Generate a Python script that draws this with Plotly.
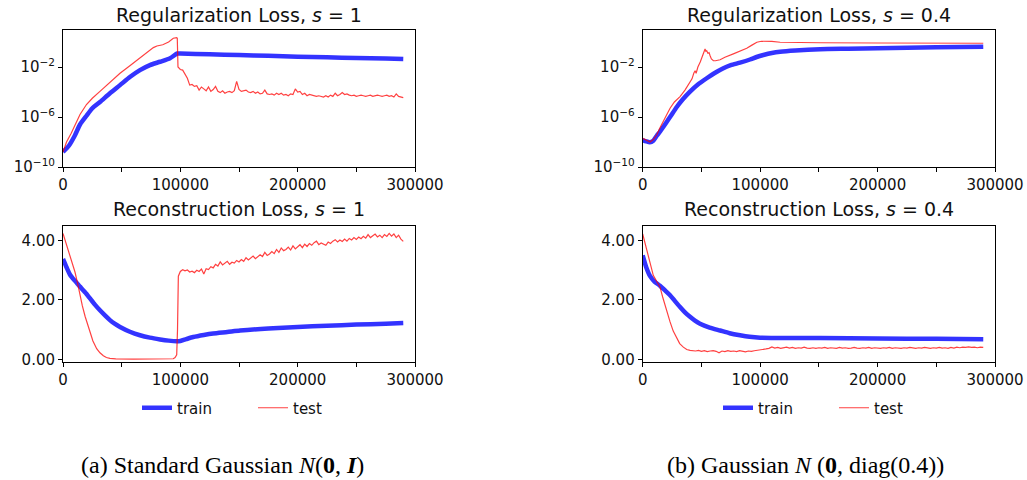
import plotly.graph_objects as go

# ---------------- data ----------------
# Regularization loss, s = 1 (log10 of value)
reg1_train_x = [0, 5000, 10000, 14500, 20000, 25000, 31500, 40000, 48600, 57000, 65600, 74100,
                82700, 91200, 97400, 100000, 125000, 150000, 175000, 200000, 225000, 250000, 275000, 290000]
reg1_train_log = [-8.8, -8.3, -7.5, -6.6, -5.9, -5.3, -4.8, -4.1, -3.45, -2.8, -2.25, -1.85,
                  -1.58, -1.3, -0.92, -0.93, -0.99, -1.05, -1.11, -1.18, -1.23, -1.28, -1.33, -1.37]

reg1_test_head_x = [0, 3000, 7000, 14500, 20000, 25000, 31500, 40000, 48600, 57000, 65600, 72000,
                    77000, 80000, 85000, 90000, 94000, 96900, 97400, 98000]
reg1_test_head_log = [-8.8, -8.0, -7.3, -5.8, -5.0, -4.5, -3.95, -3.2, -2.5, -1.9, -1.3, -0.85,
                      -0.45, -0.32, -0.22, 0.0, 0.3, 0.35, 0.3, -2.0]
reg1_test_tail_x = list(range(100000, 290001, 2000))
reg1_test_tail_log = [-2.2, -2.25, -2.6, -2.9, -3.45, -3.4, -3.55, -3.5, -3.85, -3.6,
                      -3.75, -3.9, -3.6, -3.95, -3.8, -3.55, -3.95, -4.05, -3.9, -4.1,
                      -4.0, -3.95, -4.05, -3.9, -3.15, -3.8, -3.95, -3.9, -3.85, -4.0,
                      -4.05, -3.95, -4.1, -4.0, -4.15, -4.1, -3.85, -4.15, -4.2, -4.15,
                      -4.25, -4.1, -4.2, -4.1, -4.25, -4.2, -4.3, -4.15, -4.2, -3.75,
                      -4.0, -3.95, -4.2, -4.1, -4.3, -4.2, -4.25, -4.3, -4.35, -4.3,
                      -4.35, -4.4, -4.3, -4.4, -4.25, -4.35, -4.1, -4.3, -4.2, -4.05,
                      -4.2, -4.15, -4.25, -4.3, -4.25, -4.35, -4.3, -4.25, -4.3, -4.35,
                      -4.3, -4.25, -4.35, -4.3, -4.25, -4.3, -4.35, -4.3, -4.25, -4.35,
                      -4.3, -4.4, -4.15, -4.35, -4.4, -4.45]

# Reconstruction loss, s = 1
rec1_train_x = [0, 3000, 6000, 10000, 14500, 19000, 23000, 27000, 31500, 36000, 40000, 44000,
                48600, 57000, 65600, 74000, 82700, 90000, 96900, 100000, 105000, 111000, 120000,
                128000, 140000, 150900, 175000, 200000, 225000, 250000, 275000, 290000]
rec1_train = [3.38, 3.1, 2.85, 2.65, 2.45, 2.25, 2.05, 1.85, 1.65, 1.47, 1.32, 1.2,
              1.09, 0.93, 0.81, 0.73, 0.67, 0.63, 0.61, 0.62, 0.68, 0.75, 0.82,
              0.87, 0.92, 0.97, 1.04, 1.09, 1.13, 1.17, 1.2, 1.22]

rec1_test_head_x = [0, 2000, 4000, 6000, 8000, 10200, 12500, 14500, 16500, 18800, 21000, 23000,
                    25500, 28700, 31500, 34400, 37000, 40000, 45000, 60000, 80000, 94000, 95500,
                    96900, 97600, 98300]
rec1_test_head = [4.24, 4.0, 3.7, 3.45, 3.2, 2.94, 2.55, 2.16, 1.8, 1.45, 1.15, 0.9,
                  0.62, 0.36, 0.22, 0.12, 0.06, 0.03, 0.015, 0.01, 0.01, 0.02, 0.06,
                  0.15, 1.0, 2.8]
rec1_test_tail_x = list(range(100000, 290001, 2000))
rec1_test_tail = [2.96, 3.02, 2.98, 3.01, 2.94, 2.97, 2.92, 3.0, 2.96, 3.04,
                  2.87, 3.05, 3.02, 3.12, 3.08, 3.2, 3.14, 3.28, 3.18, 3.24,
                  3.3, 3.2, 3.27, 3.24, 3.33, 3.28, 3.36, 3.3, 3.42, 3.35,
                  3.4, 3.48, 3.39, 3.45, 3.52, 3.46, 3.6, 3.5, 3.55, 3.63,
                  3.56, 3.7, 3.6, 3.75, 3.66, 3.7, 3.78, 3.68, 3.82, 3.72,
                  3.8, 3.86, 3.76, 3.88, 3.8, 3.9, 3.84, 3.93, 3.98, 3.86,
                  3.92, 3.88, 3.84, 3.95, 3.9, 3.98, 4.03, 3.95, 4.02, 3.97,
                  4.05, 3.98, 4.07, 4.02, 4.1, 4.04, 4.12, 4.06, 4.14, 4.08,
                  4.2, 4.1, 4.16, 4.22, 4.12, 4.18, 4.1, 4.2, 4.14, 4.24,
                  4.15, 4.22, 4.1, 4.18, 4.05, 3.97]

# Regularization loss, s = 0.4 (log10 of value)
reg04_train_x = [0, 3000, 6000, 9000, 12000, 14700, 17500, 20400, 24000, 29000, 34000, 40300,
                 47000, 54500, 61000, 68700, 75000, 82900, 91400, 97000, 102800, 110000, 117000,
                 130000, 151100, 175000, 200000, 250000, 290000]
reg04_train_log = [-7.84, -7.95, -8.02, -7.9, -7.5, -7.18, -6.8, -6.4, -5.9, -5.2, -4.6, -3.97,
                   -3.4, -2.9, -2.5, -2.1, -1.85, -1.65, -1.4, -1.2, -1.04, -0.88, -0.78,
                   -0.68, -0.58, -0.54, -0.5, -0.43, -0.38]
reg04_test_x = [0, 3000, 6200, 9000, 11900, 14500, 17600, 20500, 23300, 27000, 31800, 36000,
                40300, 42000, 43500, 44600, 45500, 47000, 49000, 50300, 51500, 52300, 53100,
                53800, 54500, 55500, 56500, 57400, 58500, 60200, 62000, 65900, 70000, 77200,
                83000, 88600, 93000, 97200, 101000, 105700, 110000, 117000, 130000, 151100,
                200000, 250000, 290000]
reg04_test_log = [-7.7, -7.85, -8.0, -7.8, -7.44, -6.9, -6.37, -5.8, -5.3, -4.8, -4.37, -3.85,
                  -3.2, -2.95, -2.5, -2.3, -2.5, -2.0, -1.6, -1.25, -1.0, -0.7, -0.56,
                  -0.75, -0.7, -0.9, -0.85, -1.1, -1.35, -1.5, -1.5, -1.42, -1.22, -0.95,
                  -0.75, -0.5, -0.25, -0.02, 0.06, 0.08, 0.05, -0.02, -0.04, -0.06,
                  -0.08, -0.09, -0.1]

# Reconstruction loss, s = 0.4
rec04_train_x = [0, 3000, 6300, 10000, 14700, 19000, 23300, 27500, 31800, 36000, 40300, 44500,
                 48800, 57000, 65900, 74000, 82900, 91000, 100000, 125000, 151100, 200000,
                 250000, 290000]
rec04_train = [3.5, 3.1, 2.8, 2.62, 2.48, 2.32, 2.16, 1.96, 1.76, 1.58, 1.43, 1.3,
               1.2, 1.07, 0.97, 0.88, 0.81, 0.76, 0.73, 0.72, 0.72, 0.7,
               0.69, 0.68]
rec04_test_head_x = [0, 2000, 4800, 7000, 9000, 12000, 14700, 17000, 19000, 21000, 23300, 26000,
                     29000, 31500, 34600, 37500, 40300]
rec04_test_head = [4.22, 3.9, 3.5, 3.1, 2.83, 2.62, 2.44, 2.1, 1.82, 1.55, 1.26, 0.95,
                   0.69, 0.53, 0.41, 0.33, 0.3]
rec04_test_tail_x = list(range(42500, 290001, 2500))
rec04_test_tail = [0.29, 0.28, 0.30, 0.27, 0.29, 0.26, 0.28, 0.29, 0.27, 0.22,
                   0.28, 0.26, 0.29, 0.27, 0.28, 0.26, 0.29, 0.27, 0.25, 0.28,
                   0.27, 0.29, 0.3, 0.32, 0.33, 0.35, 0.37, 0.42, 0.38, 0.4,
                   0.37, 0.39, 0.41, 0.38, 0.4, 0.37, 0.39, 0.38, 0.41, 0.38,
                   0.37, 0.39, 0.37, 0.39, 0.38, 0.4, 0.37, 0.39, 0.38, 0.37,
                   0.4, 0.38, 0.39, 0.37, 0.38, 0.4, 0.38, 0.37, 0.39, 0.38,
                   0.4, 0.37, 0.39, 0.38, 0.37, 0.39, 0.38, 0.4, 0.37, 0.39,
                   0.38, 0.37, 0.39, 0.38, 0.4, 0.38, 0.37, 0.39, 0.38, 0.4,
                   0.38, 0.37, 0.39, 0.38, 0.4, 0.38, 0.39, 0.37, 0.4, 0.38,
                   0.41, 0.39, 0.41, 0.4, 0.42, 0.4, 0.41, 0.39, 0.41, 0.4]

x_tickvals = [0, 100000, 200000, 300000]
x_ticktext = ["0", "100000", "200000", "300000"]
x_minor_tickvals = [50000, 150000, 250000]
log_tickvals = [1e-10, 1e-6, 1e-2]
log_ticktext = ["10<sup>−10</sup>", "10<sup>−6</sup>", "10<sup>−2</sup>"]
lin_tickvals = [0, 2, 4]
lin_ticktext = ["0.00", "2.00", "4.00"]

titles = ["Regularization Loss, <i>s</i> = 1", "Regularization Loss, <i>s</i> = 0.4",
          "Reconstruction Loss, <i>s</i> = 1", "Reconstruction Loss, <i>s</i> = 0.4"]
captions = ["(a) Standard Gaussian <i>N</i>(<b>0</b>, <b><i>I</i></b>)",
            "(b) Gaussian <i>N</i> (<b>0</b>, diag(0.4))"]

# ---------------- figure ----------------
W, H = 1027, 480
TRAIN_COLOR = "rgba(0,0,255,0.8)"
TEST_COLOR = "rgba(255,0,0,0.75)"
FONT = "DejaVu Sans"

fig = go.Figure()

def pw(px):
    return px / W

def ph(py):
    return 1 - py / H

left_dom = [pw(63), pw(415)]
right_dom = [pw(642.7), pw(995)]
top_dom = [ph(167), ph(30)]
bot_dom = [ph(362), ph(225.7)]

def exp10(lst):
    return [10 ** v for v in lst]

panels = [
    ("x", "y", reg1_train_x, exp10(reg1_train_log),
     reg1_test_head_x + reg1_test_tail_x, exp10(reg1_test_head_log + reg1_test_tail_log), "legend", False),
    ("x2", "y2", reg04_train_x, exp10(reg04_train_log),
     reg04_test_x, exp10(reg04_test_log), "legend2", False),
    ("x3", "y3", rec1_train_x, rec1_train,
     rec1_test_head_x + rec1_test_tail_x, rec1_test_head + rec1_test_tail, "legend", True),
    ("x4", "y4", rec04_train_x, rec04_train,
     rec04_test_head_x + rec04_test_tail_x, rec04_test_head + rec04_test_tail, "legend2", True),
]

for xa, ya, trx, tr, tex, te, leg, show in panels:
    fig.add_trace(go.Scatter(x=trx, y=tr, mode="lines", name="train", xaxis=xa, yaxis=ya,
                             line=dict(color=TRAIN_COLOR, width=4.5, shape="spline", smoothing=0.6),
                             legend=leg, showlegend=show))
    fig.add_trace(go.Scatter(x=tex, y=te, mode="lines", name="test", xaxis=xa, yaxis=ya,
                             line=dict(color=TEST_COLOR, width=1.2), legend=leg, showlegend=show))

axis_common = dict(showline=True, linecolor="black", linewidth=1, mirror=True, showgrid=False,
                   zeroline=False, ticks="outside", ticklen=4, tickwidth=1, tickcolor="black",
                   automargin=False,
                   tickfont=dict(family=FONT, size=15, color="#111111"))

xcfg = dict(range=[0, 300000], tickmode="array", tickvals=x_tickvals, ticktext=x_ticktext,
            minor=dict(tickmode="array", tickvals=x_minor_tickvals, ticks="outside", ticklen=4,
                       tickwidth=1, tickcolor="black", showgrid=False),
            **axis_common)
logcfg = dict(type="log", range=[-10, 0.96], tickmode="array", tickvals=log_tickvals,
              ticktext=log_ticktext, **axis_common)
lincfg = dict(range=[-0.09, 4.5], tickmode="array", tickvals=lin_tickvals, ticktext=lin_ticktext,
              **axis_common)

legend_common = dict(orientation="h", yanchor="middle", y=ph(408), xanchor="center",
                     font=dict(family=FONT, size=15, color="#111111"), bgcolor="rgba(0,0,0,0)",
                     entrywidth=71, entrywidthmode="pixels")

fig.update_layout(
    width=W, height=H,
    margin=dict(l=0, r=0, t=0, b=0),
    paper_bgcolor="white", plot_bgcolor="white",
    xaxis=dict(domain=left_dom, anchor="y", **xcfg),
    yaxis=dict(domain=top_dom, anchor="x", **logcfg),
    xaxis2=dict(domain=right_dom, anchor="y2", **xcfg),
    yaxis2=dict(domain=top_dom, anchor="x2", **logcfg),
    xaxis3=dict(domain=left_dom, anchor="y3", **xcfg),
    yaxis3=dict(domain=bot_dom, anchor="x3", **lincfg),
    xaxis4=dict(domain=right_dom, anchor="y4", **xcfg),
    yaxis4=dict(domain=bot_dom, anchor="x4", **lincfg),
    legend=dict(x=pw(253), **legend_common),
    legend2=dict(x=pw(834), **legend_common),
)

title_pos = [(239, 15), (819, 15), (239, 209), (819, 209)]
for t, (cx, cy) in zip(titles, title_pos):
    fig.add_annotation(text=t, x=pw(cx), y=ph(cy), xref="paper", yref="paper", showarrow=False,
                       xanchor="center", yanchor="middle",
                       font=dict(family=FONT, size=19, color="#111111"))

for c, cx in zip(captions, [222, 805]):
    fig.add_annotation(text=c, x=pw(cx), y=ph(465), xref="paper", yref="paper", showarrow=False,
                       xanchor="center", yanchor="middle",
                       font=dict(family="Liberation Serif", size=24, color="black"))

fig.write_html("out.html", config={"displayModeBar": False},
               post_script="document.body.style.margin='0';document.body.style.overflow='hidden';")
